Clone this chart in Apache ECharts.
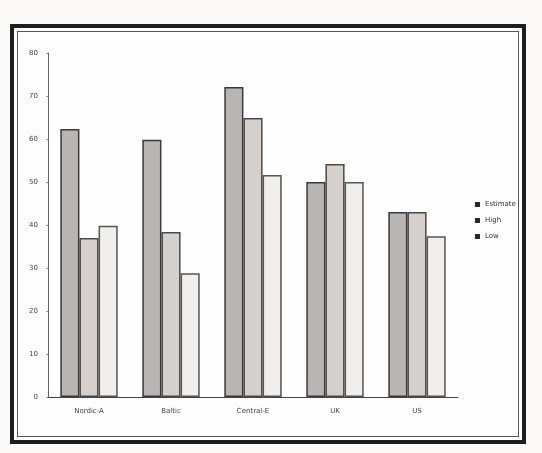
<!DOCTYPE html>
<html>
<head>
<meta charset="utf-8">
<script src="https://cdn.jsdelivr.net/npm/echarts@6/dist/echarts.min.js"></script>
<style>
  html, body { margin: 0; padding: 0; background: #fbfaf8; }
  .frame {
    position: absolute; left: 10px; top: 24px; width: 508px; height: 412px;
    border: 4px solid #1e1e1e; background: #fefefe;
    box-shadow: inset 0 0 0 3px #fefefe, inset 0 0 0 4px #555;
  }
  #chart { position: absolute; left: 0; top: 0; width: 542px; height: 453px; }
</style>
</head>
<body>
<div class="frame"></div>
<div id="chart"></div>
<script>
  var categories = ['Nordic-A', 'Baltic', 'Central-E', 'UK', 'US']
  var seriesNames = ['Estimate', 'High', 'Low']
  var valuesA = [62.3, 59.8, 72.1, 50, 43]
  var valuesB = [37, 38.4, 64.9, 54.2, 43]
  var valuesC = [39.8, 28.8, 51.6, 50, 37.4]
  var yTicks = [0, 10, 20, 30, 40, 50, 60, 70, 80]

  var fills = ['#b9b5b2', '#d6d0cc', '#f1eeeb']

  var myChart = echarts.init(document.getElementById('chart'))
  myChart.setOption({
    backgroundColor: 'transparent',
    animation: false,
    grid: {
      left: 48,
      right: 84,
      top: 53,
      bottom: 56
    },
    legend: {
      orient: 'vertical',
      left: 470,
      top: 196,
      itemWidth: 5,
      itemHeight: 5,
      itemGap: 9,
      icon: 'rect',
      itemStyle: { color: '#2a2a2a', borderWidth: 0 },
      textStyle: {
        color: '#333',
        fontSize: 7,
        fontFamily: 'DejaVu Sans'
      },
      data: seriesNames
    },
    xAxis: {
      type: 'category',
      data: categories,
      axisTick: { show: false },
      axisLine: { lineStyle: { color: '#444', width: 1 } },
      axisLabel: {
        color: '#444',
        fontSize: 7,
        margin: 11,
        fontFamily: 'DejaVu Sans'
      }
    },
    yAxis: {
      type: 'value',
      min: yTicks[0],
      max: yTicks[yTicks.length - 1],
      interval: 10,
      splitLine: { show: false },
      axisLine: { show: true, lineStyle: { color: '#666', width: 1 } },
      axisTick: { show: true, length: 2, lineStyle: { color: '#999' } },
      axisLabel: {
        color: '#444',
        fontSize: 7,
        margin: 10,
        fontFamily: 'DejaVu Sans'
      }
    },
    series: [
      {
        name: seriesNames[0],
        type: 'bar',
        data: valuesA,
        barGap: '0%',
        barCategoryGap: '30%',
        itemStyle: { color: fills[0], borderColor: '#3a3a3a', borderWidth: 1.5 }
      },
      {
        name: seriesNames[1],
        type: 'bar',
        data: valuesB,
        itemStyle: { color: fills[1], borderColor: '#4a4a4a', borderWidth: 1.5 }
      },
      {
        name: seriesNames[2],
        type: 'bar',
        data: valuesC,
        itemStyle: { color: fills[2], borderColor: '#555', borderWidth: 1.5 }
      }
    ]
  })
</script>
</body>
</html>
